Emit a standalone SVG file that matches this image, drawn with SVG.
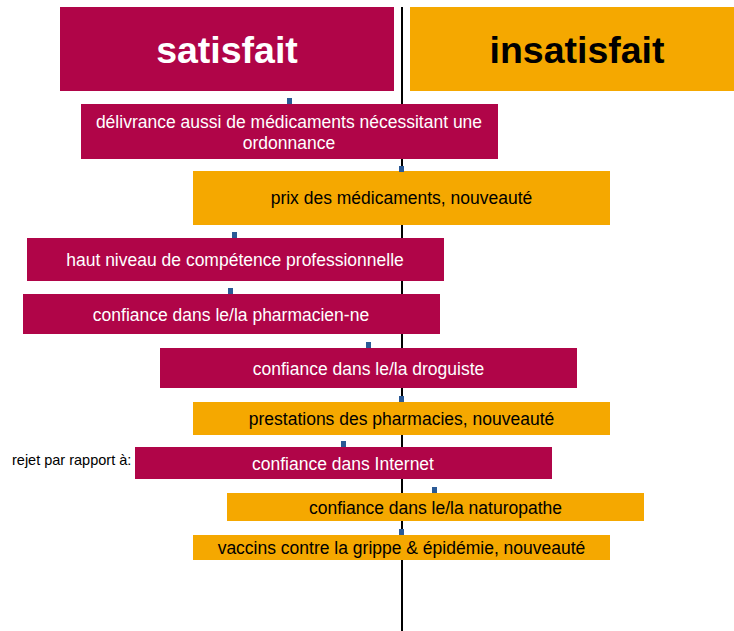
<svg xmlns="http://www.w3.org/2000/svg" width="734" height="631" viewBox="0 0 734 631">
<style>
.sat{fill:#B00548}
.ins{fill:#F5A800}
.mk{fill:#2B5A96}
text{font-family:"Liberation Sans",Arial,sans-serif;text-anchor:middle}
.h{font-size:37.5px;font-weight:bold}
.b{font-size:17.5px}
.w{fill:#FFFFFF}
.k{fill:#000000}
</style>
<g id="axis">
<line x1="402" y1="7" x2="402" y2="631" stroke="#000" stroke-width="2"/>
</g>
<g id="header-satisfait"><rect class="sat" x="60" y="7" width="334" height="84"/><text class="h w" x="227" y="63">satisfait</text></g>
<g id="header-insatisfait"><rect class="ins" x="410" y="7" width="324" height="84"/><text class="h k" x="577" y="63">insatisfait</text></g>
<g id="n-delivrance"><rect class="sat" x="81" y="104" width="417" height="55"/><text class="b w" x="289" y="128">délivrance aussi de médicaments nécessitant une</text><text class="b w" x="289" y="148.5">ordonnance</text></g>
<g id="n-prix"><rect class="ins" x="193" y="171" width="417" height="54"/><text class="b k" x="401.5" y="204">prix des médicaments, nouveauté</text></g>
<g id="n-competence"><rect class="sat" x="27" y="238" width="417" height="43"/><text class="b w" x="235" y="265.5">haut niveau de compétence professionnelle</text></g>
<g id="n-pharmacien"><rect class="sat" x="23" y="294" width="417" height="40"/><text class="b w" x="231" y="320.5">confiance dans le/la pharmacien-ne</text></g>
<g id="n-droguiste"><rect class="sat" x="160" y="348" width="417" height="40"/><text class="b w" x="368.5" y="374.5">confiance dans le/la droguiste</text></g>
<g id="n-prestations"><rect class="ins" x="193" y="402" width="417" height="33"/><text class="b k" x="401.5" y="425">prestations des pharmacies, nouveauté</text></g>
<g id="n-internet"><rect class="sat" x="135" y="447" width="417" height="32"/><text class="b w" x="343" y="469.5">confiance dans Internet</text></g>
<g id="n-naturopathe"><rect class="ins" x="227" y="493" width="417" height="28"/><text class="b k" x="435.5" y="513.5">confiance dans le/la naturopathe</text></g>
<g id="n-vaccins"><rect class="ins" x="193" y="535" width="417" height="25"/><text class="b k" x="401.5" y="553.5">vaccins contre la grippe &amp; épidémie, nouveauté</text></g>
<g id="label-rejet"><text class="k" x="12" y="465" style="font-size:14.5px;text-anchor:start">rejet par rapport à:</text></g>
<g id="markers">
<rect class="mk" x="287" y="98" width="5" height="6"/>
<rect class="mk" x="399" y="166" width="5" height="6"/>
<rect class="mk" x="232" y="232" width="5" height="6"/>
<rect class="mk" x="228" y="288" width="5" height="6"/>
<rect class="mk" x="366" y="342" width="5" height="6"/>
<rect class="mk" x="399" y="396" width="5" height="6"/>
<rect class="mk" x="341" y="441" width="5" height="6"/>
<rect class="mk" x="432" y="487" width="5" height="6"/>
<rect class="mk" x="399" y="529" width="5" height="6"/>
</g>
</svg>
